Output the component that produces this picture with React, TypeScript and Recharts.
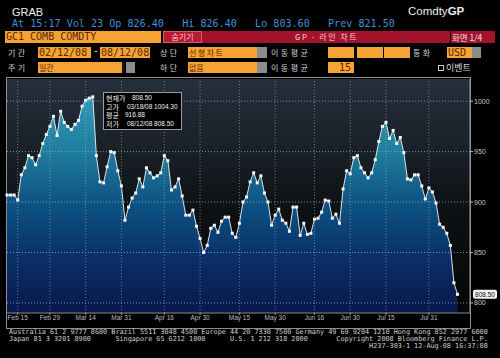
import React from 'react';
import { ComposedChart, Area, XAxis, YAxis, CartesianGrid, ReferenceLine } from 'recharts';

// GC1 COMB COMDTY daily closes, 02/12/08 - 08/12/08 (one value per trading day)
const PRICES = [
  907, 907, 907, 902, 927, 934, 946, 944, 937, 946, 958, 967, 975, 985, 966, 990, 979, 975, 972, 977,
  981, 995, 1001, 1003, 1004.3,
  946, 920, 919, 935, 950, 949, 931, 916, 882, 895, 904, 909, 923, 915, 934, 929, 924, 926, 929, 946,
  941, 912, 915, 923, 906, 887, 887,
  892, 876, 864, 850, 857, 874, 877, 870, 881, 885, 885, 869, 865, 879, 900, 905, 920, 929, 919, 926,
  909, 900, 877, 887, 893,
  882, 879, 871, 895, 895, 867, 879, 868, 869, 883, 884, 890, 902, 901, 884, 888, 879, 913, 931, 928,
  944, 946, 934, 929, 924,
  929, 942, 960, 975, 979, 963, 971, 958, 964, 949, 923, 922, 927, 927, 916, 903, 914, 910, 899, 878,
  875, 869, 857, 820, 808.5,
];

const HOLIDAYS = ['2008-02-18', '2008-03-21', '2008-05-26', '2008-07-04'];
const TICK_DATES = [
  '2008-02-15', '2008-02-29', '2008-03-14', '2008-03-31', '2008-04-16', '2008-04-30',
  '2008-05-15', '2008-05-30', '2008-06-16', '2008-06-30', '2008-07-15', '2008-07-31',
];
const TICK_LABELS = ['Feb 15', 'Feb 29', 'Mar 14', 'Mar 31', 'Apr 16', 'Apr 30', 'May 15', 'May 30', 'Jun 16', 'Jun 30', 'Jul 15', 'Jul 31'];
const Y_TICKS = [800, 850, 900, 950, 1000];
const LAST_PRICE = 808.5;
const STATS = [
  ['현재가', '808.50'],
  ['고가', '03/18/08 1004.30'],
  ['평균', '916.88'],
  ['저가', '08/12/08 808.50'],
];

function tradingDays(): string[] {
  const out: string[] = [];
  const d = new Date(Date.UTC(2008, 1, 12));
  const end = Date.UTC(2008, 7, 12);
  while (d.getTime() <= end) {
    const iso = d.toISOString().slice(0, 10);
    const wd = d.getUTCDay();
    if (wd !== 0 && wd !== 6 && !HOLIDAYS.includes(iso)) out.push(iso);
    d.setUTCDate(d.getUTCDate() + 1);
  }
  return out;
}

const DATES = tradingDays();
const data = PRICES.map((price, i) => ({ i, date: DATES[i], price }));
const tickIdx = TICK_DATES.map((t) => DATES.indexOf(t));

const ORANGE = '#f6a235';
const RED = '#a3132c';
const MONO = '"DejaVu Sans Mono", monospace';
const KR = '"Noto Sans CJK KR", sans-serif';

const field = (left: number, top: number, width: number, height = 11): React.CSSProperties => ({
  position: 'absolute', left, top, width, height, background: ORANGE, color: '#5a2600',
  fontFamily: MONO, fontSize: 10, lineHeight: `${height}px`, boxSizing: 'border-box', paddingLeft: 1, overflow: 'hidden', whiteSpace: 'pre',
});
const grey = (left: number, top: number, width = 10, height = 11): React.CSSProperties => ({
  position: 'absolute', left, top, width, height, background: '#8c8c8c',
});
const label = (left: number, top: number): React.CSSProperties => ({
  position: 'absolute', left, top, color: '#d0d0d0', fontFamily: KR, fontSize: 8, lineHeight: '11px', letterSpacing: 2.5, whiteSpace: 'pre',
});

const RightTick = (props: any) => {
  const { x, y, payload } = props;
  if (payload.value === LAST_PRICE) {
    return (
      <g>
        <rect x={x - 1} y={y - 4.5} width={24} height={9} rx={2} fill="#f2f2f2" />
        <text x={x + 11} y={y + 2.5} textAnchor="middle" fontSize={6.5} fill="#111" fontFamily="Liberation Sans">{LAST_PRICE.toFixed(2)}</text>
      </g>
    );
  }
  return (
    <g>
      <line x1={x - 4} x2={x - 1} y1={y} y2={y} stroke="#bdbdbd" />
      <text x={x} y={y + 2.5} fontSize={7} fill="#c8c8c8" fontFamily="Liberation Sans">{payload.value}</text>
    </g>
  );
};

const Dot = (props: any) => {
  const { cx, cy, index } = props;
  if (cx == null || cy == null) return null;
  return <rect key={`d-${index}`} x={cx - 1.5} y={cy - 1.5} width={3} height={3} fill="#f4f8fa" />;
};

export default function App() {
  return (
    <div style={{ position: 'absolute', left: 0, top: 0, width: 500, height: 358, background: '#000', overflow: 'hidden' }}>
      {/* header */}
      <div style={{ position: 'absolute', left: 12, top: 6, color: '#eee', fontFamily: 'Liberation Sans', fontSize: 11 }}>GRAB</div>
      <div style={{ position: 'absolute', left: 408, top: 5, color: '#eee', fontFamily: 'Liberation Sans', fontSize: 11.5 }}>
        Comdty<b>GP</b>
      </div>
      <div style={{ position: 'absolute', left: 12, top: 18, color: '#3f8fd2', fontFamily: MONO, fontSize: 10.1, whiteSpace: 'pre' }}>
        At 15:17 Vol 23 Op 826.40   Hi 826.40   Lo 803.60   Prev 821.50
      </div>

      {/* row 1 */}
      <div style={field(5, 31, 156, 12)}>GC1 COMB COMDTY</div>
      <div style={{ position: 'absolute', left: 163, top: 31, width: 332, height: 12, background: RED }} />
      <div style={{ position: 'absolute', left: 163, top: 31, width: 39, height: 12, background: '#b81a34', border: '1px solid #d65a6c', boxSizing: 'border-box', color: '#ffc4cc', fontFamily: KR, fontSize: 8, lineHeight: '10px', textAlign: 'center' }}>숨기기</div>
      <div style={{ position: 'absolute', left: 203, top: 31, width: 247, height: 12, color: '#f4cdd4', fontFamily: KR, fontSize: 8, lineHeight: '12px', textAlign: 'center', letterSpacing: 1.5, whiteSpace: 'pre' }}>GP - 라인 차트</div>
      <div style={{ position: 'absolute', left: 450, top: 31, width: 1, height: 12, background: '#000' }} />
      <div style={{ position: 'absolute', left: 452, top: 31, width: 43, height: 12, color: '#f8e6ea', fontFamily: KR, fontSize: 8.5, lineHeight: '12px', whiteSpace: 'pre' }}>화면 1/4</div>

      {/* row 2 */}
      <div style={label(8, 47)}>기간</div>
      <div style={field(38, 47, 53)}>02/12/08</div>
      <div style={{ position: 'absolute', left: 93, top: 45, color: '#ddd', fontFamily: MONO, fontSize: 10 }}>-</div>
      <div style={field(100, 47, 50)}>08/12/08</div>
      <div style={label(160, 47)}>상단</div>
      <div style={{ ...field(188, 47, 69), fontFamily: KR, fontSize: 8, letterSpacing: 1.5 }}>선형차트</div>
      <div style={grey(257, 47)} />
      <div style={label(271, 47)}>이동평균</div>
      <div style={field(328, 47, 26)} />
      <div style={field(357, 47, 26)} />
      <div style={field(384, 47, 26)} />
      <div style={label(413, 47)}>통화</div>
      <div style={field(447, 47, 25)}>USD</div>
      <div style={grey(472, 47, 9)} />

      {/* row 3 */}
      <div style={label(8, 62)}>주기</div>
      <div style={{ ...field(38, 62, 87), fontFamily: KR, fontSize: 8 }}>일간</div>
      <div style={{ position: 'absolute', left: 122, top: 62, width: 3, height: 11, background: '#111' }} />
      <div style={grey(126, 62, 9)} />
      <div style={label(160, 62)}>하단</div>
      <div style={{ ...field(188, 62, 69), fontFamily: KR, fontSize: 8 }}>없음</div>
      <div style={grey(257, 62)} />
      <div style={label(271, 62)}>이동평균</div>
      <div style={{ ...field(328, 62, 26), textAlign: 'right', paddingRight: 3 }}>15</div>
      <div style={{ position: 'absolute', left: 438, top: 65, width: 6, height: 6, border: '1px solid #ccc', boxSizing: 'border-box' }} />
      <div style={{ position: 'absolute', left: 446, top: 62, color: '#d8d8d8', fontFamily: KR, fontSize: 9, lineHeight: '11px' }}>이벤트</div>

      {/* chart frame */}
      <div style={{ position: 'absolute', left: 6, top: 77, width: 465, height: 252, border: '1px solid #8f8f8f', boxSizing: 'border-box' }} />

      <div style={{ position: 'absolute', left: 0, top: 0 }}>
        <ComposedChart width={500} height={358} data={data} margin={{ top: 79, right: 0, bottom: 30, left: 7 }}>
          <defs>
            <linearGradient id="bgGrad" x1="0" y1="0" x2="0" y2="1">
              <stop offset="0%" stopColor="#24303c" />
              <stop offset="30%" stopColor="#192028" />
              <stop offset="55%" stopColor="#0e1114" />
              <stop offset="100%" stopColor="#050607" />
            </linearGradient>
            <linearGradient id="areaGrad" x1="0" y1="0" x2="0" y2="1">
              <stop offset="0%" stopColor="#3499b8" />
              <stop offset="25%" stopColor="#1f7d9d" />
              <stop offset="50%" stopColor="#0d5282" />
              <stop offset="75%" stopColor="#0a2f68" />
              <stop offset="100%" stopColor="#08184a" />
            </linearGradient>
          </defs>
          <CartesianGrid fill="url(#bgGrad)" horizontal={false} vertical={false} />
          <XAxis
            dataKey="i"
            type="number"
            domain={[0, 129.5]}
            ticks={tickIdx}
            interval={0}
            tickFormatter={(v: number) => TICK_LABELS[tickIdx.indexOf(v)] ?? ''}
            height={15}
            tickSize={2}
            tickMargin={0}
            axisLine={{ stroke: '#8a8a8a' }}
            tickLine={{ stroke: '#9a9a9a' }}
            tick={{ fontSize: 6.5, fill: '#bdbdbd', fontFamily: 'Liberation Sans' }}
          />
          <YAxis
            orientation="right"
            width={30}
            domain={[790, 1022]}
            ticks={[...Y_TICKS, LAST_PRICE]}
            interval={0}
            tickSize={3}
            tickMargin={1}
            tickLine={false}
            axisLine={{ stroke: '#9a9a9a' }}
            tick={<RightTick />}
            allowDataOverflow
          />
          <Area
            type="linear"
            dataKey="price"
            stroke="#f2f6f8"
            strokeWidth={0.9}
            fill="url(#areaGrad)"
            fillOpacity={1}
            dot={<Dot />}
            activeDot={false}
            isAnimationActive={false}
          />
          {Y_TICKS.map((v) => (
            <ReferenceLine key={`h-${v}`} y={v} stroke="#a9b4c0" strokeOpacity={0.75} strokeDasharray="1 2" />
          ))}
          {tickIdx.map((v) => (
            <ReferenceLine key={`v-${v}`} x={v} stroke="#a9b4c0" strokeOpacity={0.6} strokeDasharray="1 2" />
          ))}
        </ComposedChart>
      </div>

      {/* stats box */}
      <div style={{ position: 'absolute', left: 103, top: 92, width: 79, height: 38, background: '#000', border: '1px solid #9c9c9c', boxSizing: 'border-box', padding: '1px 2px', zIndex: 2 }}>
        {STATS.map(([k, v], idx) => (
          <div key={k} style={{ position: 'relative', height: 8.6, color: '#f0f0f0', whiteSpace: 'pre' }}>
            <span style={{ position: 'absolute', left: 0, top: 0, fontFamily: KR, fontSize: 7, lineHeight: '8.6px' }}>{k}</span>
            <span style={{ position: 'absolute', top: 0, left: idx === 0 ? 26 : idx === 2 ? 19 : 21, fontFamily: 'Liberation Sans', fontSize: 6.5, lineHeight: '8.6px' }}>{v}</span>
          </div>
        ))}
      </div>

      {/* footer */}
      <div style={{ position: 'absolute', left: 9, top: 329, color: '#cfcfcf', fontFamily: MONO, fontSize: 6.8, lineHeight: '6.8px', whiteSpace: 'pre' }}>
        {'Australia 61 2 9777 8600 Brazil 5511 3048 4500 Europe 44 20 7330 7500 Germany 49 69 9204 1210 Hong Kong 852 2977 6000\n'}
        {'Japan 81 3 3201 8900      Singapore 65 6212 1000      U.S. 1 212 318 2000       Copyright 2008 Bloomberg Finance L.P.\n'}
        {'                                                                                        H237-303-1 12-Aug-08 16:37:08'}
      </div>
    </div>
  );
}
